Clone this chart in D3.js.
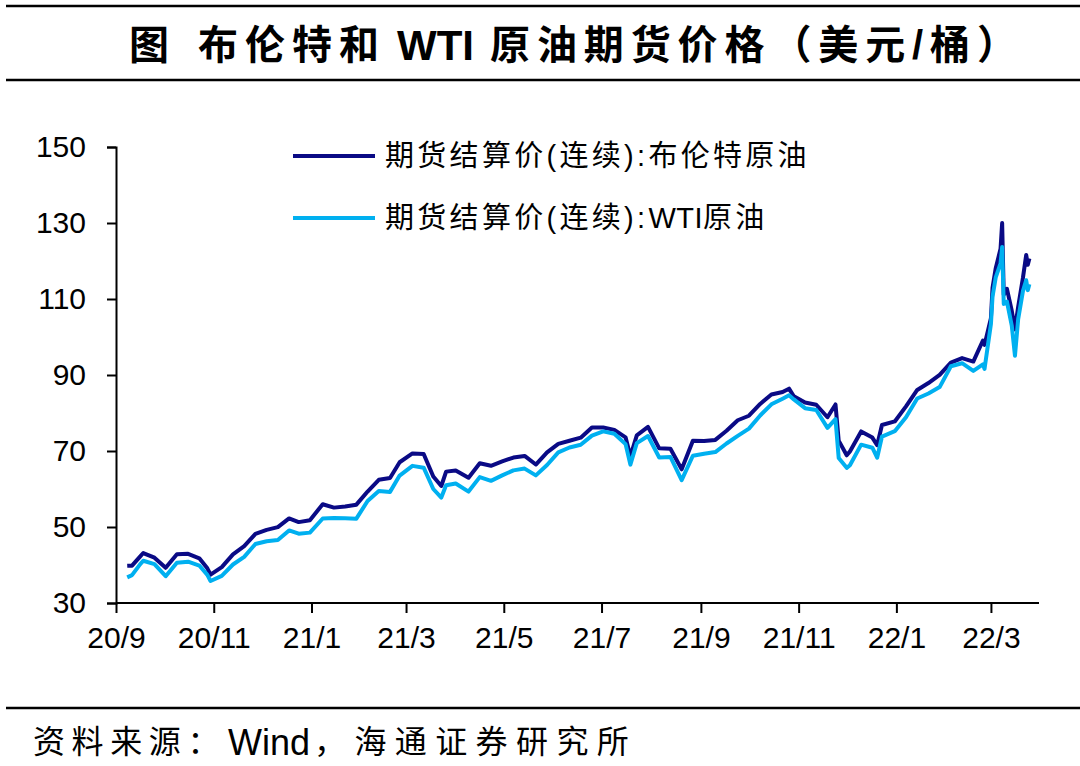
<!DOCTYPE html>
<html>
<head>
<meta charset="utf-8">
<script src="https://cdn.jsdelivr.net/npm/d3@7"></script>
<style>
  body { margin: 0; background: #fff; }
  svg { display: block; }
  text { font-family: "Liberation Sans", Arial, "Noto Sans CJK SC", sans-serif; }
</style>
</head>
<body>
<div id="chart"></div>
<script>
// trading dates (roughly weekly plus turning points)
var dates = [
  "2020-09-08","2020-09-11","2020-09-16","2020-09-18","2020-09-25","2020-10-02","2020-10-09","2020-10-16",
  "2020-10-23","2020-10-28","2020-10-30","2020-11-06","2020-11-13","2020-11-20","2020-11-27","2020-12-04",
  "2020-12-11","2020-12-18","2020-12-24","2020-12-31","2021-01-08","2021-01-15","2021-01-22","2021-01-29",
  "2021-02-05","2021-02-12","2021-02-19","2021-02-25","2021-03-05","2021-03-12","2021-03-18","2021-03-23",
  "2021-03-26","2021-04-01","2021-04-09","2021-04-16","2021-04-23","2021-04-30","2021-05-07","2021-05-14",
  "2021-05-21","2021-05-28","2021-06-04","2021-06-11","2021-06-18","2021-06-25","2021-07-02","2021-07-09",
  "2021-07-16","2021-07-19","2021-07-23","2021-07-30","2021-08-06","2021-08-13","2021-08-20","2021-08-27",
  "2021-09-03","2021-09-10","2021-09-17","2021-09-24","2021-10-01","2021-10-08","2021-10-15","2021-10-22",
  "2021-10-26","2021-10-29","2021-11-05","2021-11-12","2021-11-19","2021-11-24","2021-11-26","2021-12-01",
  "2021-12-03","2021-12-10","2021-12-17","2021-12-20","2021-12-23","2021-12-31","2022-01-07","2022-01-14",
  "2022-01-21","2022-01-28","2022-02-04","2022-02-11","2022-02-18","2022-02-24","2022-02-25","2022-03-01",
  "2022-03-02","2022-03-04","2022-03-07","2022-03-08","2022-03-09","2022-03-11","2022-03-14","2022-03-16",
  "2022-03-18","2022-03-21","2022-03-23","2022-03-24","2022-03-25"
];

var brent = [
  39.78,39.83,42.22,43.15,41.92,39.27,42.85,42.93,
  41.77,39.12,37.46,39.45,42.78,44.96,48.18,49.25,
  49.97,52.26,51.29,51.80,55.99,55.10,55.41,55.88,
  59.34,62.43,62.91,67.04,69.36,69.22,63.28,60.79,
  64.57,64.86,62.95,66.77,66.11,67.25,68.28,68.71,
  66.44,69.63,71.89,72.69,73.51,76.18,76.17,75.55,
  73.59,68.62,74.10,76.33,70.70,70.59,65.18,72.70,
  72.61,72.92,75.34,78.09,79.28,82.39,84.86,85.53,
  86.40,84.38,82.74,82.17,78.89,82.25,72.72,68.87,
  69.88,75.15,73.52,71.52,76.85,77.78,81.75,86.06,
  87.89,90.03,93.27,94.44,93.54,99.08,97.93,104.97,
  112.93,118.11,123.21,130.00,111.14,112.67,106.90,102.00,
  107.93,115.62,121.60,119.03,120.65
];

var wti = [
  36.76,37.33,40.16,41.11,40.25,37.05,40.60,40.88,
  39.85,37.39,35.79,37.14,40.13,42.15,45.53,46.26,
  46.57,49.10,48.23,48.52,52.24,52.36,52.27,52.20,
  56.85,59.47,59.24,63.53,66.09,65.61,60.00,57.76,
  60.97,61.45,59.32,63.13,62.14,63.58,64.90,65.37,
  63.58,66.32,69.62,70.91,71.64,74.05,75.16,74.56,
  71.81,66.42,72.07,73.95,68.28,68.44,62.32,68.74,
  69.29,69.72,71.97,73.98,75.88,79.35,82.28,83.76,
  84.65,83.57,81.27,80.79,76.10,78.39,68.15,65.57,
  66.26,71.67,70.86,68.23,73.79,75.21,78.90,83.82,
  85.14,86.82,92.31,93.10,91.07,92.81,91.59,103.41,
  110.60,115.68,119.40,123.70,108.70,109.33,103.01,95.04,
  104.70,112.12,114.93,112.34,113.90
];

var seriesNames = [["期货结算价(连续):", "布伦特原油"], ["期货结算价(连续):", "WTI", "原油"]];
var seriesColors = ["#0a0a85", "#00b0f0"];
var yTicks = [30, 50, 70, 90, 110, 130, 150];

var svgWidth = 1080;
var svgHeight = 766;

var parseDate = d3.timeParse("%Y-%m-%d");
var arrData = dates.map((d, i) => ({ date: parseDate(d), brent: brent[i], wti: wti[i] }));

var svg = d3.select("#chart")
  .append("svg")
  .attr("width", svgWidth)
  .attr("height", svgHeight);

// title block with rules above and below
svg.append("line")
  .attr("x1", 6).attr("x2", svgWidth).attr("y1", 6).attr("y2", 6)
  .attr("stroke", "#000").attr("stroke-width", 2.5);
svg.append("line")
  .attr("x1", 6).attr("x2", svgWidth).attr("y1", 80).attr("y2", 80)
  .attr("stroke", "#000").attr("stroke-width", 2.5);

var title = svg.append("text")
  .attr("y", 45)
  .attr("dominant-baseline", "central")
  .attr("font-size", 40).attr("font-weight", "bold");
title.append("tspan").attr("x", 129).text("图");
title.append("tspan").attr("x", 198).attr("letter-spacing", 7).text("布伦特和");
title.append("tspan").attr("x", 397).attr("font-size", 42).text("WTI");
title.append("tspan").attr("x", 490).attr("letter-spacing", 6.9).text("原油期货价格（美元/桶）");

// scales
var fnXScale = d3.scaleTime()
  .domain([parseDate("2020-09-01"), parseDate("2022-03-31")])
  .range([116, 1039]);

var fnYScale = d3.scaleLinear()
  .domain([30, 150])
  .range([603, 147]);

// axes
var fnXAxis = d3.axisBottom(fnXScale)
  .tickValues(d3.timeMonth.every(2).range(parseDate("2020-09-01"), parseDate("2022-03-02")))
  .tickFormat(d3.timeFormat("%y/%-m"))
  .tickSizeOuter(0)
  .tickSize(10)
  .tickPadding(14);

var fnYAxis = d3.axisLeft(fnYScale)
  .tickValues(yTicks)
  .tickSizeOuter(0)
  .tickSize(9)
  .tickPadding(21);

var gx = svg.append("g")
  .attr("transform", "translate(0, 603)")
  .call(fnXAxis);
var gy = svg.append("g")
  .attr("transform", "translate(116, 0)")
  .call(fnYAxis);

[gx, gy].forEach(g => {
  g.select(".domain").attr("stroke", "#000").attr("stroke-width", 2);
  g.selectAll(".tick line").attr("stroke", "#000").attr("stroke-width", 2);
  g.selectAll(".tick text")
    .attr("fill", "#000")
    .attr("font-size", 30)
    .attr("font-family", "'Liberation Sans', Arial, sans-serif");
});
gx.select(".domain").attr("d", "M116,0H1039");

// lines
var fnBrent = d3.line()
  .x(d => fnXScale(d.date))
  .y(d => fnYScale(d.brent));
var fnWti = d3.line()
  .x(d => fnXScale(d.date))
  .y(d => fnYScale(d.wti));

svg.append("path")
  .datum(arrData)
  .attr("d", fnBrent)
  .attr("fill", "none")
  .attr("stroke", seriesColors[0])
  .attr("stroke-width", 4)
  .attr("stroke-linejoin", "round");

svg.append("path")
  .datum(arrData)
  .attr("d", fnWti)
  .attr("fill", "none")
  .attr("stroke", seriesColors[1])
  .attr("stroke-width", 4)
  .attr("stroke-linejoin", "round");

// legend
var legendY = [156, 218];
seriesNames.forEach((parts, i) => {
  svg.append("line")
    .attr("x1", 293).attr("x2", 375)
    .attr("y1", legendY[i]).attr("y2", legendY[i])
    .attr("stroke", seriesColors[i])
    .attr("stroke-width", 4);
  var t = svg.append("text")
    .attr("x", 385).attr("y", legendY[i])
    .attr("dominant-baseline", "central")
    .attr("font-size", 29);
  parts.forEach(p => {
    t.append("tspan")
      .attr("letter-spacing", p === "WTI" ? 0.5 : 3.3)
      .text(p);
  });
});

// source footer
svg.append("line")
  .attr("x1", 6).attr("x2", svgWidth).attr("y1", 708).attr("y2", 708)
  .attr("stroke", "#000").attr("stroke-width", 2.5);

var src = svg.append("text")
  .attr("y", 742)
  .attr("dominant-baseline", "central")
  .attr("font-size", 32);
src.append("tspan").attr("x", 33).attr("letter-spacing", 6.6).text("资料来源：");
src.append("tspan").attr("x", 228).attr("font-size", 36).text("Wind");
src.append("tspan").attr("x", 314).attr("letter-spacing", 8.4).text("，海通证券研究所");
</script>
</body>
</html>
